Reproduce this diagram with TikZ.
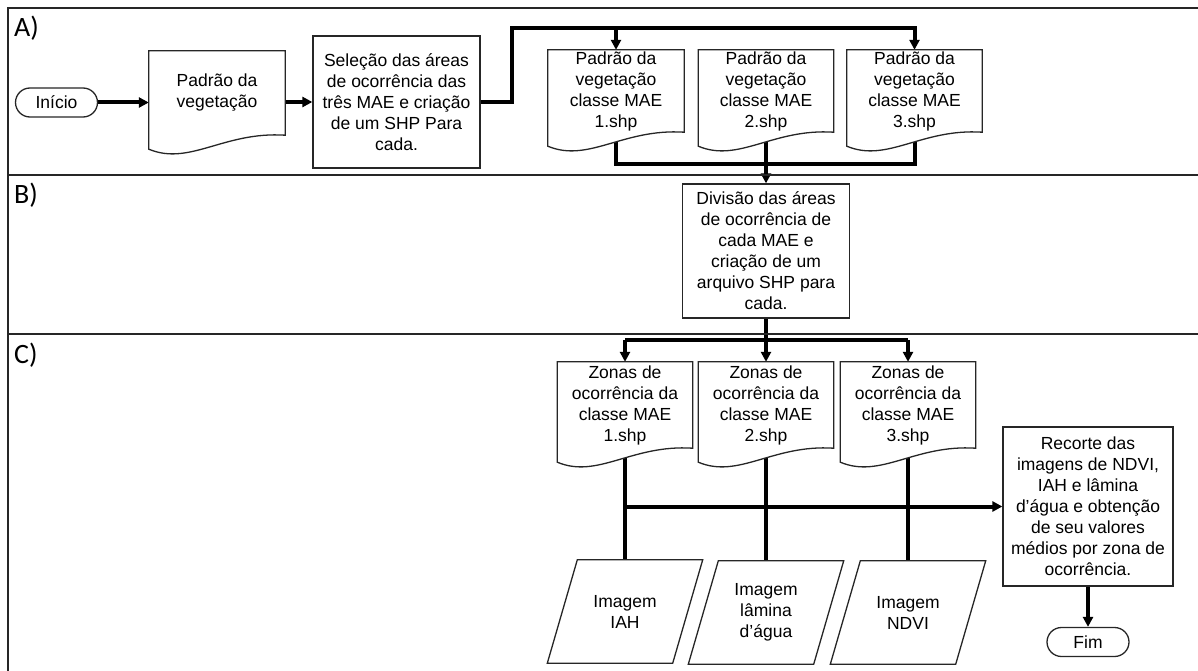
\documentclass[tikz,border=0pt]{standalone}
\usepackage{fontspec}
\setmainfont{Liberation Sans}
\newfontfamily\seclabel{Carlito}
\usetikzlibrary{arrows.meta,calc,backgrounds}
\pgfdeclarelayer{connlayer}
\pgfdeclarelayer{shapelayer}
\pgfsetlayers{connlayer,shapelayer,main}

% document symbol: straight top and sides, wavy bottom edge
\newcommand\docoutline[1]{%
  \begin{pgfonlayer}{shapelayer}
    \draw[shapeline,fill=white] (#1.south east) -- (#1.north east) -- (#1.north west)
      -- ($(#1.south west)+(0,14)$)
      .. controls ($(#1.south west)!0.3!(#1.south east)+(0,31)$)
      and ($(#1.south west)!0.55!(#1.south east)+(0,-4)$) .. (#1.south east) -- cycle;
  \end{pgfonlayer}}
% data symbol: parallelogram leaning to the right
\newcommand\paraoutline[1]{%
  \begin{pgfonlayer}{shapelayer}
    \draw[shapeline,fill=white] ($(#1.north west)+(15,0)$) -- ($(#1.north east)+(15,0)$)
      -- ($(#1.south east)+(-15,0)$) -- ($(#1.south west)+(-15,0)$) -- cycle;
  \end{pgfonlayer}}

\begin{document}
\begin{tikzpicture}[x=1pt,y=-1pt,
  txt/.style={font=\fontsize{17.5}{21}\selectfont, align=center, inner sep=0pt, text=black},
  shapeline/.style={draw=black!85, line width=1.3pt},
  process/.style={txt, rectangle, shapeline, fill=white},
  terminal/.style={txt, rectangle, shapeline, fill=white, rounded corners=14.5pt,
                   minimum width=82pt, minimum height=29pt},
  docnode/.style={txt, rectangle},
  datanode/.style={txt, rectangle, minimum width=125pt, minimum height=103pt},
  conn/.style={line width=4pt, black, line join=miter},
  arr/.style={conn, -{Triangle[length=10pt,width=10pt]}},
  frame/.style={line width=2pt, black!85},
  sec/.style={font=\seclabel\fontsize{28}{28}\selectfont, anchor=base west, inner sep=0pt}]

\useasboundingbox (0,0) rectangle (1198,671);

% section frame
\draw[frame] (8,671) -- (8,8.5) -- (1198,8.5);
\draw[frame] (8,175.5) -- (1198,175.5);
\draw[frame] (8,334) -- (1198,334);
\node[sec] (la) at (14,37) {A)};
\node[sec] (lb) at (14,203) {B)};
\node[sec] (lc) at (14,363) {C)};

% row A
\node[terminal] (ini) at (56.5,102.5) {Início};
\node[docnode, minimum width=136pt, minimum height=84pt] (pad) at (217,93) {Padrão da\\vegetação};
\node[process, minimum width=167pt, minimum height=132pt] (sel) at (396.5,102)
  {Seleção das áreas\\de ocorrência das\\três MAE e criação\\de um SHP Para\\cada.};
\node[docnode, minimum width=136pt, minimum height=82pt] (d1) at (616,91)
  {Padrão da\\vegetação\\classe MAE\\1.shp};
\node[docnode, minimum width=135pt, minimum height=82pt] (d2) at (766,91)
  {Padrão da\\vegetação\\classe MAE\\2.shp};
\node[docnode, minimum width=135pt, minimum height=82pt] (d3) at (914.5,91)
  {Padrão da\\vegetação\\classe MAE\\3.shp};

% row B
\node[process, minimum width=167pt, minimum height=134pt] (div) at (766,251)
  {Divisão das áreas\\de ocorrência de\\cada MAE e\\criação de um\\arquivo SHP para\\cada.};

% row C
\node[docnode, minimum width=135pt, minimum height=86pt] (z1) at (625,405)
  {Zonas de\\ocorrência da\\classe MAE\\1.shp};
\node[docnode, minimum width=135pt, minimum height=86pt] (z2) at (766,405)
  {Zonas de\\ocorrência da\\classe MAE\\2.shp};
\node[docnode, minimum width=135pt, minimum height=86pt] (z3) at (908,405)
  {Zonas de\\ocorrência da\\classe MAE\\3.shp};
\node[datanode] (p1) at (625,611.5) {Imagem\\IAH};
\node[datanode] (p2) at (766,612.5) {Imagem\\lâmina\\d’água};
\node[datanode] (p3) at (908,612.5) {Imagem\\NDVI};
\node[process, minimum width=170pt, minimum height=159pt] (rec) at (1088,506.5)
  {Recorte das\\imagens de NDVI,\\IAH e lâmina\\d’água e obtenção\\de seu valores\\médios por zona de\\ocorrência.};
\node[terminal] (fim) at (1088,642) {Fim};

\docoutline{pad}
\docoutline{d1}
\docoutline{d2}
\docoutline{d3}
\docoutline{z1}
\docoutline{z2}
\docoutline{z3}
\paraoutline{p1}
\paraoutline{p2}
\paraoutline{p3}

% bus points
\coordinate (topbus) at (512,28);
\coordinate (abus) at (766,164);
\coordinate (cbus) at (766,340);
\coordinate (ebus) at (625,506.5);

\begin{pgfonlayer}{connlayer}
  \draw[arr] (ini.east) -- (ini.east -| pad.west);
  \draw[arr] (sel.west -| pad.east) -- (sel.west);
  \draw[arr] (sel.east) -- (sel.east -| topbus) -- (topbus) -- (topbus -| d3.north) -- (d3.north);
  \draw[arr] (topbus -| d1.north) -- (d1.north);
  \draw[conn] (d1.south) -- (d1.south |- abus) -- (d3.south |- abus) -- (d3.south);
  \draw[arr] (d2.south) -- (div.north);
  \draw[conn] (cbus -| z1.north) -- (cbus -| z3.north);
  \draw[arr] (div.south) -- (z2.north);
  \draw[arr] (cbus -| z1.north) -- (z1.north);
  \draw[arr] (cbus -| z3.north) -- (z3.north);
  \draw[conn] (z1.south) -- (p1.north);
  \draw[conn] (z2.south) -- (p2.north);
  \draw[conn] (z3.south) -- (p3.north);
  \draw[arr] (ebus) -- (rec.west);
  \draw[arr] (rec.south) -- (fim.north);
\end{pgfonlayer}
\end{tikzpicture}
\end{document}
